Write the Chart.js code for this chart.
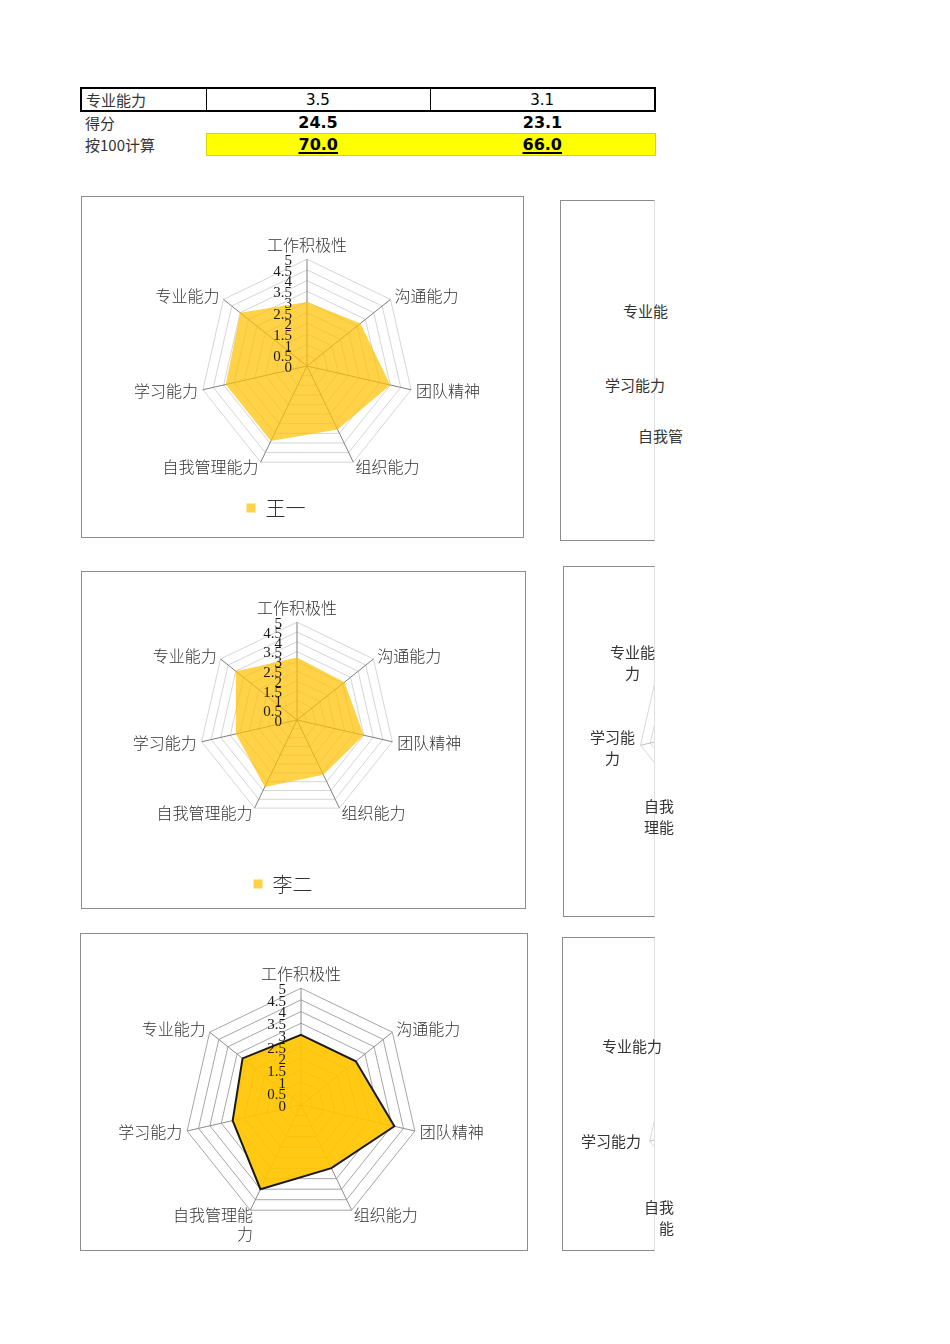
<!DOCTYPE html>
<html>
<head>
<meta charset="utf-8">
<script src="https://cdn.jsdelivr.net/npm/chart.js@4.4.1/dist/chart.umd.min.js"></script>
<style>
  body { margin: 0; background: #fff; width: 950px; height: 1344px; position: relative; overflow: hidden;
         font-family: "Noto Sans CJK SC", sans-serif; color: #333; }
  #sheet { position: absolute; left: 80px; top: 87px; border-collapse: collapse; table-layout: fixed; }
  #sheet td { padding: 0 4px; height: 21px; font-size: 15px; line-height: 20px; white-space: nowrap; }
  #sheet td.num { text-align: center; font-family: "DejaVu Sans", sans-serif; color: #000; }
  #sheet tr.r1 td { border-top: 2px solid #000; border-bottom: 2px solid #000; border-left: 1px solid #000; }
  #sheet tr.r1 td:first-child { border-left: 2px solid #000; }
  #sheet tr.r1 td:last-child { border-right: 2px solid #000; }
  #sheet tr.r2 td.num { font-weight: bold; font-size: 16px; }
  #sheet tr.r3 td.num { font-weight: bold; font-size: 16px; background: #ffff00;
                        border-top: 1px solid #d6d600; border-bottom: 1px solid #d6d600;
                        text-decoration: underline; text-decoration-thickness: 2px; text-underline-offset: 2px; }
  #sheet tr.r3 td.num:nth-child(2) { border-left: 1px solid #d6d600; }
  #sheet tr.r3 td.num:last-child { border-right: 1px solid #d6d600; }
  .box { position: absolute; border: 1px solid #8c8c8c; box-sizing: border-box; overflow: hidden; background: #fff; }
  .box.part { border-right-color: #e0e0e0; }
  .box canvas { position: absolute; left: -1px; top: -1px; }
  .lbl { position: absolute; font-size: 15px; line-height: 21px; color: #333; white-space: pre; }
</style>
</head>
<body>
<table id="sheet"><colgroup><col style="width:125px"><col style="width:224px"><col style="width:225px"></colgroup><tbody></tbody></table>

<div class="box" style="left:81px; top:196px; width:443px; height:342px;"><canvas id="c1" width="443" height="342"></canvas></div>
<div class="box" style="left:81px; top:571px; width:445px; height:338px;"><canvas id="c2" width="445" height="338"></canvas></div>
<div class="box" style="left:80px; top:933px; width:448px; height:318px;"><canvas id="c3" width="448" height="350"></canvas></div>

<div class="box part" style="left:560px; top:200px; width:95px; height:341px;"></div>
<div class="box part" style="left:563px; top:566px; width:92px; height:351px;"><canvas id="p2" width="200" height="200" style="left:74px; top:56px;"></canvas></div>
<div class="box part" style="left:562px; top:937px; width:93px; height:314px;"><canvas id="p3" width="216" height="216" style="left:84px; top:71px;"></canvas></div>
<div id="partLabels"></div>

<script>
// ── Data ─────────────────────────────────────────────────
const categories = ["工作积极性", "沟通能力", "团队精神", "组织能力", "自我管理能力", "学习能力", "专业能力"];
const categoriesWrapped = ["工作积极性", "沟通能力", "团队精神", "组织能力", ["自我管理能", "力"], "学习能力", "专业能力"];
const scoreWangYi = [3.0, 3.2, 4.0, 3.3, 3.9, 3.9, 4.0];
const scoreLiEr = [3.2, 3.1, 3.5, 3.1, 3.8, 3.2, 4.0];
const scoreThird = [3.0, 3.0, 4.1, 3.0, 4.0, 3.0, 3.2];
const tickValues = [0, 0.5, 1, 1.5, 2, 2.5, 3, 3.5, 4, 4.5, 5];

const rowLabels = ["专业能力", "得分", "按100计算"];
const colFirst = ["3.5", "24.5", "70.0"];
const colSecond = ["3.1", "23.1", "66.0"];

// labels of the charts cut off by the print edge (only these fragments show)
const partLabels = [
  { text: "专业能", x: 623, y: 300 }, { text: "学习能力", x: 605, y: 374 }, { text: "自我管", x: 638, y: 425 },
  { text: "专业能\n力", x: 609, y: 641, w: 47, align: "center" },
  { text: "学习能\n力", x: 589, y: 726, w: 47, align: "center" },
  { text: "自我\n理能", x: 644, y: 795 },
  { text: "专业能力", x: 602, y: 1035 }, { text: "学习能力", x: 581, y: 1130 },
  { text: "自我\n能", x: 643, y: 1196, w: 31, align: "right" }
];

// ── Table ────────────────────────────────────────────────
const tbody = document.querySelector("#sheet tbody");
tbody.innerHTML = rowLabels.map((lab, i) =>
  `<tr class="r${i + 1}"><td>${lab}</td><td class="num">${colFirst[i]}</td><td class="num">${colSecond[i]}</td></tr>`
).join("");

document.getElementById("partLabels").innerHTML = partLabels.map(p =>
  `<div class="lbl" style="left:${p.x}px; top:${p.y}px;${p.w ? ` width:${p.w}px; text-align:${p.align};` : ""}">${p.text}</div>`).join("");

// ── Plugins ──────────────────────────────────────────────
const tickLabels = {
  id: "tickLabels",
  afterDatasetsDraw(chart, args, opts) {
    if (!opts.show) return;
    const r = chart.scales.r, ctx = chart.ctx;
    ctx.save();
    ctx.font = "15px 'Liberation Serif'";
    ctx.fillStyle = "#1a1a1a";
    ctx.textAlign = "right";
    ctx.textBaseline = "middle";
    tickValues.forEach(v => {
      const p = r.getPointPositionForValue(0, v);
      ctx.fillText(String(v), p.x - 15, p.y + 2);
    });
    ctx.restore();
  }
};

// Excel puts the legend a little left of the plot centre
const legendShift = {
  id: "legendShift",
  afterLayout(chart, args, opts) {
    const lg = chart.legend;
    if (lg && opts.dx) { lg.left += opts.dx; lg.right += opts.dx; }
  }
};

function radar(id, cfg) {
  const keepHeight = cfg.keepHeight || [0];
  return new Chart(document.getElementById(id), {
    type: "radar",
    data: { labels: cfg.labels, datasets: cfg.datasets },
    options: {
      responsive: false,
      animation: false,
      layout: { padding: cfg.padding || 0 },
      elements: { point: { radius: 0 }, line: { tension: 0 } },
      plugins: {
        legend: {
          display: !!cfg.legendPad,
          position: "bottom",
          labels: { boxWidth: 9, boxHeight: 9, padding: cfg.legendPad || 0, color: "#333",
                    font: { family: "'Noto Sans CJK SC'", size: 20, weight: 300 } }
        },
        tooltip: { enabled: false },
        tickLabels: { show: cfg.ticks !== false },
        legendShift: { dx: cfg.legendDx || 0 }
      },
      scales: {
        r: {
          min: 0, max: 5,
          ticks: { stepSize: 0.5, display: false },
          grid: { color: cfg.ringColor },
          angleLines: { color: cfg.spokeColor },
          pointLabels: {
            display: cfg.pointLabels !== false,
            color: "#333",
            // side labels sit centred on their spoke, like Excel
            font: ctx => ({ family: "'Noto Sans CJK SC'", size: 16, weight: 300,
                            lineHeight: keepHeight.includes(ctx.index) ? 1.2 : 0.01 }),
            padding: ctx => (cfg.labelPad && cfg.labelPad[ctx.index] !== undefined ? cfg.labelPad[ctx.index] : 5)
          }
        }
      }
    },
    plugins: [tickLabels, legendShift]
  });
}

const softFill = "rgba(255, 192, 0, 0.72)";

radar("c1", {
  labels: categories,
  datasets: [{ label: "王一", data: scoreWangYi, backgroundColor: softFill, borderWidth: 0, fill: true }],
  padding: { left: 30, right: 21, top: 27, bottom: 10 },
  legendPad: 13, legendDx: -31,
  ringColor: "#d6d6d6", spokeColor: "#7f7f7f"
});

radar("c2", {
  labels: categories,
  datasets: [{ label: "李二", data: scoreLiEr, backgroundColor: softFill, borderWidth: 0, fill: true }],
  padding: { left: 28, right: 41, top: 15, bottom: 5 },
  legendPad: 43, legendDx: -14,
  ringColor: "#d6d6d6", spokeColor: "#7f7f7f"
});

radar("c3", {
  labels: categoriesWrapped,
  datasets: [{ label: "", data: scoreThird, backgroundColor: "rgba(255, 196, 0, 0.92)",
               borderColor: "#1a1a1a", borderWidth: 2, fill: true }],
  padding: { left: 14, right: 20, top: 30, bottom: 38 },
  keepHeight: [0, 4], labelPad: { 4: -6 },
  ringColor: "#a6a6a6", spokeColor: "#8c8c8c"
});

radar("p2", { labels: categories, datasets: [], pointLabels: false, ticks: false,
              ringColor: "#d9d9d9", spokeColor: "#bfbfbf" });
radar("p3", { labels: categories, datasets: [], pointLabels: false, ticks: false,
              ringColor: "#d9d9d9", spokeColor: "#bfbfbf" });
</script>
</body>
</html>
